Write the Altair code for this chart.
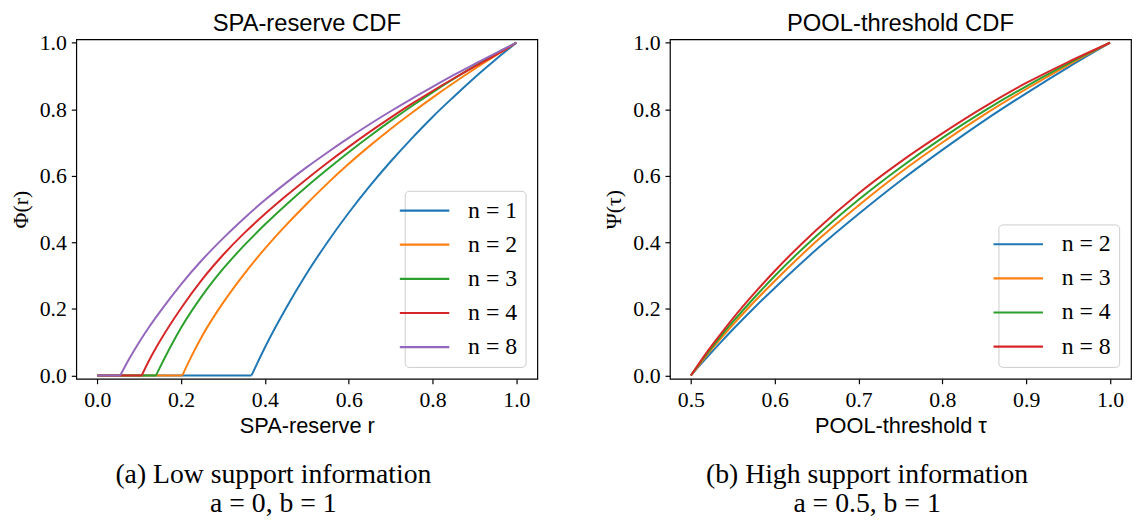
import altair as alt
import pandas as pd

# ---------------- Panel (a): SPA-reserve CDF, a = 0, b = 1 ----------------
spa_n1_r = [0.0, 0.368, 0.38, 0.4, 0.45, 0.5, 0.55, 0.6, 0.65, 0.7, 0.75, 0.8, 0.85, 0.9, 0.95, 1.0]
spa_n1_v = [0.0, 0.0, 0.032, 0.084, 0.201, 0.307, 0.402, 0.489, 0.569, 0.643, 0.712, 0.777, 0.837, 0.895, 0.949, 1.0]

spa_n2_r = [0.0, 0.203, 0.225, 0.25, 0.3, 0.35, 0.4, 0.45, 0.5, 0.55, 0.6, 0.65, 0.7, 0.75, 0.8, 0.85, 0.9, 0.95, 1.0]
spa_n2_v = [0.0, 0.0, 0.058, 0.118, 0.218, 0.304, 0.381, 0.451, 0.516, 0.578, 0.636, 0.69, 0.741, 0.789, 0.835, 0.879, 0.921, 0.961, 1.0]

spa_n3_r = [0.0, 0.14, 0.16, 0.18, 0.2, 0.25, 0.3, 0.35, 0.4, 0.45, 0.5, 0.55, 0.6, 0.65, 0.7, 0.75, 0.8, 0.85, 0.9, 0.95, 1.0]
spa_n3_v = [0.0, 0.0, 0.05, 0.098, 0.143, 0.239, 0.32, 0.39, 0.4535, 0.5125, 0.568, 0.6205, 0.671, 0.719, 0.765, 0.809, 0.851, 0.891, 0.9295, 0.9665, 1.0]

spa_n4_r = [0.0, 0.106, 0.125, 0.15, 0.2, 0.25, 0.3, 0.35, 0.4, 0.45, 0.5, 0.55, 0.6, 0.65, 0.7, 0.75, 0.8, 0.85, 0.9, 0.95, 1.0]
spa_n4_v = [0.0, 0.0, 0.048, 0.104, 0.202, 0.288, 0.362, 0.427, 0.485, 0.539, 0.5905, 0.64, 0.687, 0.732, 0.775, 0.816, 0.855, 0.8925, 0.9285, 0.963, 1.0]

spa_n8_r = [0.0, 0.055, 0.075, 0.1, 0.125, 0.15, 0.2, 0.25, 0.3, 0.35, 0.4, 0.45, 0.5, 0.55, 0.6, 0.65, 0.7, 0.75, 0.8, 0.85, 0.9, 0.95, 1.0]
spa_n8_v = [0.0, 0.0, 0.047, 0.10, 0.148, 0.192, 0.274, 0.347, 0.412, 0.472, 0.527, 0.578, 0.626, 0.671, 0.714, 0.755, 0.794, 0.8315, 0.8675, 0.9025, 0.936, 0.968, 1.0]

spa_labels = ["n = 1", "n = 2", "n = 3", "n = 4", "n = 8"]
spa_colors = ["#1f77b4", "#ff7f0e", "#2ca02c", "#d62728", "#9467bd"]
spa_ticks = [0.0, 0.2, 0.4, 0.6, 0.8, 1.0]

# ---------------- Panel (b): POOL-threshold CDF, a = 0.5, b = 1 ----------------
pool_tau = [0.5, 0.51, 0.52, 0.535, 0.55, 0.575, 0.6, 0.65, 0.7, 0.75, 0.8, 0.85, 0.9, 0.95, 1.0]
pool_n2 = [0.0, 0.029, 0.057, 0.098, 0.138, 0.202, 0.263, 0.379, 0.485, 0.585, 0.678, 0.766, 0.848, 0.926, 1.0]
pool_n3 = [0.0, 0.032, 0.064, 0.109, 0.152, 0.220, 0.284, 0.404, 0.511, 0.610, 0.700, 0.784, 0.861, 0.933, 1.0]
pool_n4 = [0.0, 0.035, 0.068, 0.116, 0.161, 0.232, 0.299, 0.420, 0.528, 0.625, 0.714, 0.795, 0.869, 0.937, 1.0]
pool_n8 = [0.0, 0.037, 0.073, 0.123, 0.171, 0.245, 0.314, 0.438, 0.547, 0.642, 0.7275, 0.807, 0.879, 0.942, 1.0]

pool_labels = ["n = 2", "n = 3", "n = 4", "n = 8"]
pool_colors = ["#1f77b4", "#ff7f0e", "#2ca02c", "#d62728"]
pool_ticks = [0.5, 0.6, 0.7, 0.8, 0.9, 1.0]

y_ticks = [0.0, 0.2, 0.4, 0.6, 0.8, 1.0]


def long_frame(series):
    """Long table; each curve split into its flat part and its rising part
    (the kink point belongs to both) so the rise can be drawn smoothly."""
    rows = []
    for label, xs, ys in series:
        kink = max(k for k, y in enumerate(ys) if y == 0.0)
        for i, (x, y) in enumerate(zip(xs, ys)):
            if i <= kink and kink > 0:
                rows.append({"x": x, "y": y, "n": label, "i": i, "seg": "flat"})
            if i >= kink:
                rows.append({"x": x, "y": y, "n": label, "i": i, "seg": "rise"})
    return pd.DataFrame(rows)


spa_df = long_frame([
    (spa_labels[0], spa_n1_r, spa_n1_v),
    (spa_labels[1], spa_n2_r, spa_n2_v),
    (spa_labels[2], spa_n3_r, spa_n3_v),
    (spa_labels[3], spa_n4_r, spa_n4_v),
    (spa_labels[4], spa_n8_r, spa_n8_v),
])
pool_df = long_frame([
    (pool_labels[0], pool_tau, pool_n2),
    (pool_labels[1], pool_tau, pool_n3),
    (pool_labels[2], pool_tau, pool_n4),
    (pool_labels[3], pool_tau, pool_n8),
])

W, H = 466, 343
SERIF = "Liberation Serif"
SANS = "Liberation Sans"

legend_kw = dict(
    title=None, orient="bottom-right", offset=12,
    strokeColor="#cccccc", fillColor="#ffffff", cornerRadius=4, padding=8,
    symbolType="M-2.5,0H2.5", symbolSize=400, symbolStrokeWidth=2.2,
    labelFont=SERIF, labelFontSize=24, labelColor="black",
    labelOffset=32, rowPadding=10.5,
)


def panel(df, xdom, xticks, xtitle, ytitle, labels, colors, title):
    return alt.Chart(df).mark_line(strokeWidth=2, interpolate="monotone").encode(
        x=alt.X("x:Q", scale=alt.Scale(domain=xdom, nice=False, zero=False),
                axis=alt.Axis(values=xticks, format=".1f", title=xtitle,
                              labelFont=SERIF, labelFontSize=22, labelPadding=6,
                              titleFont=SANS, titleFontSize=22,
                              labelFlush=False, labelOverlap=False, titlePadding=5)),
        y=alt.Y("y:Q", scale=alt.Scale(domain=[-0.01, 1.01], nice=False),
                axis=alt.Axis(values=y_ticks, format=".1f", title=ytitle,
                              labelFont=SERIF, labelFontSize=22, labelPadding=5,
                              titleFont=SERIF, titleFontSize=22,
                              labelFlush=False, labelOverlap=False, titlePadding=7)),
        color=alt.Color("n:N", scale=alt.Scale(domain=labels, range=colors),
                        legend=alt.Legend(**legend_kw)),
        detail="seg:N",
        order="i:Q",
    ).properties(
        width=W, height=H,
        title=alt.Title(title, font=SANS, fontSize=24, fontWeight="normal",
                        color="black", frame="group", anchor="middle", offset=-4),
    )


left = panel(spa_df, [-0.05, 1.05], spa_ticks, "SPA-reserve r", "Φ(r)",
             spa_labels, spa_colors, "SPA-reserve CDF")
right = panel(pool_df, [0.475, 1.025], pool_ticks, "POOL-threshold τ", "Ψ(τ)",
              pool_labels, pool_colors, "POOL-threshold CDF")

cap_kw = dict(orient="bottom", anchor="middle", frame="bounds",
              font=SERIF, fontSize=28, fontWeight="normal",
              color="black", lineHeight=29, offset=25)

left_cap = alt.concat(left, title=alt.Title(["(a) Low support information", "a = 0, b = 1"], **cap_kw)
                      ).resolve_scale(color="independent")
right_cap = alt.concat(right, title=alt.Title(["(b) High support information", "a = 0.5, b = 1"], **cap_kw)
                       ).resolve_scale(color="independent")

chart = alt.hconcat(left_cap, right_cap, spacing=64).resolve_scale(
    x="independent", y="independent", color="independent"
).properties(
    padding={"left": 0, "top": 0, "right": 0, "bottom": 0}
).configure_view(
    stroke="black", strokeWidth=1.2
).configure_axis(
    domain=False, grid=False,
    labelFont=SERIF, labelFontSize=22, labelColor="black",
    tickColor="black", tickSize=5, tickWidth=1.2,
    titleFont=SANS, titleFontWeight="normal", titleColor="black",
)

chart.save("out.html", embed_options={"renderer": "svg", "actions": False})
